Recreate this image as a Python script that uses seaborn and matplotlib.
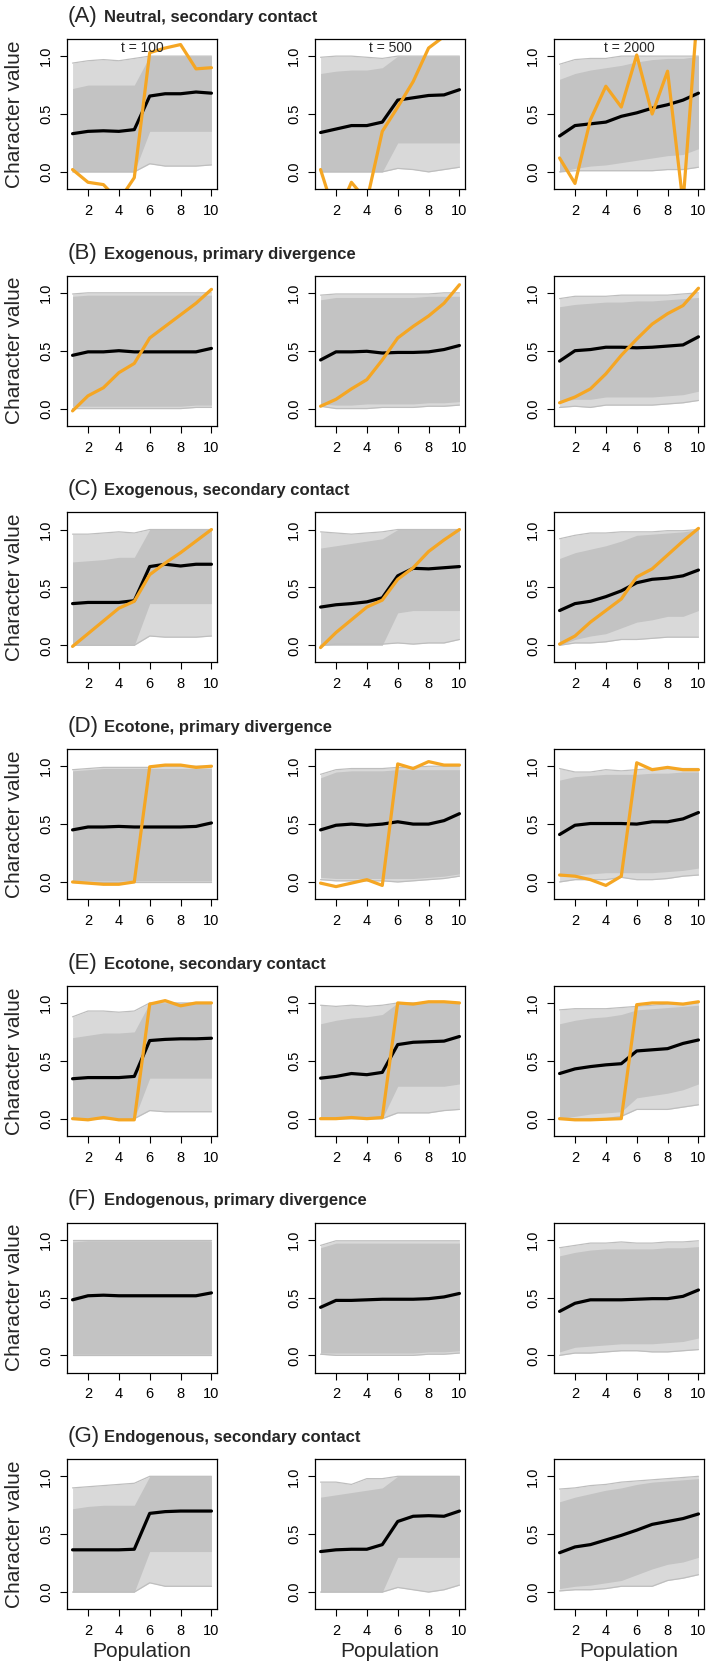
import matplotlib
matplotlib.use("Agg")
import matplotlib.pyplot as plt
import seaborn as sns
import pandas as pd

sns.set_theme(style="white")
plt.rcParams['font.family'] = ['Liberation Sans', 'DejaVu Sans']

POP = [1, 2, 3, 4, 5, 6, 7, 8, 9, 10]
TIMES = ["t = 100", "t = 500", "t = 2000"]
LETTERS = ["(A)", "(B)", "(C)", "(D)", "(E)", "(F)", "(G)"]
TITLES = ["Neutral, secondary contact", "Exogenous, primary divergence",
          "Exogenous, secondary contact", "Ecotone, primary divergence",
          "Ecotone, secondary contact", "Endogenous, primary divergence",
          "Endogenous, secondary contact"]
XTICKS = [2, 4, 6, 8, 10]
YTICKS = [0.0, 0.5, 1.0]
YTICKLABELS = ["0.0", "0.5", "1.0"]

# ---------------- Row A ----------------
A_mean = [[0.33, 0.35, 0.355, 0.35, 0.365, 0.655, 0.675, 0.675, 0.69, 0.68],
          [0.34, 0.37, 0.40, 0.40, 0.43, 0.62, 0.64, 0.66, 0.665, 0.71],
          [0.31, 0.40, 0.415, 0.43, 0.48, 0.51, 0.55, 0.58, 0.62, 0.68]]
A_orange = [[0.02, -0.09, -0.11, -0.25, -0.05, 1.03, 1.07, 1.10, 0.89, 0.90],
            [0.02, -0.40, -0.09, -0.25, 0.35, 0.56, 0.78, 1.07, 1.17, 1.35],
            [0.12, -0.10, 0.45, 0.74, 0.56, 1.01, 0.50, 0.87, -0.27, 1.50]]
A_hi = [[0.94, 0.96, 0.97, 0.96, 0.98, 1.0, 1.0, 1.0, 1.0, 1.0],
        [0.99, 1.0, 1.0, 0.99, 0.98, 1.0, 1.0, 1.0, 1.0, 1.0],
        [0.93, 0.97, 0.98, 0.98, 1.0, 1.0, 1.0, 1.0, 1.0, 1.0]]
A_lo = [[0.0, 0.0, 0.0, 0.0, 0.0, 0.07, 0.05, 0.05, 0.05, 0.06],
        [0.0, 0.0, 0.0, 0.0, 0.0, 0.03, 0.02, 0.0, 0.02, 0.04],
        [0.0, 0.01, 0.01, 0.01, 0.01, 0.01, 0.01, 0.02, 0.02, 0.04]]
A_core_hi = [[0.72, 0.75, 0.75, 0.75, 0.75, 1.0, 1.0, 1.0, 1.0, 1.0],
             [0.85, 0.87, 0.88, 0.88, 0.90, 1.0, 1.0, 1.0, 1.0, 1.0],
             [0.80, 0.85, 0.88, 0.90, 0.92, 0.95, 0.97, 0.98, 0.98, 1.0]]
A_core_lo = [[0.0, 0.0, 0.0, 0.0, 0.0, 0.35, 0.35, 0.35, 0.35, 0.35],
             [0.0, 0.0, 0.0, 0.0, 0.0, 0.25, 0.25, 0.25, 0.25, 0.25],
             [0.0, 0.03, 0.05, 0.06, 0.08, 0.10, 0.12, 0.14, 0.15, 0.20]]

# ---------------- Row B ----------------
B_mean = [[0.46, 0.49, 0.49, 0.50, 0.49, 0.49, 0.49, 0.49, 0.49, 0.52],
          [0.42, 0.49, 0.49, 0.495, 0.48, 0.485, 0.485, 0.49, 0.51, 0.545],
          [0.41, 0.50, 0.51, 0.53, 0.53, 0.525, 0.53, 0.54, 0.55, 0.62]]
B_orange = [[-0.02, 0.11, 0.18, 0.31, 0.39, 0.61, 0.71, 0.81, 0.91, 1.03],
            [0.02, 0.08, 0.17, 0.25, 0.42, 0.61, 0.71, 0.80, 0.91, 1.07],
            [0.05, 0.10, 0.17, 0.30, 0.46, 0.60, 0.73, 0.82, 0.89, 1.04]]
B_hi = [[0.99, 1.0, 1.0, 1.0, 1.0, 1.0, 1.0, 1.0, 1.0, 1.0],
        [0.98, 0.99, 0.99, 0.99, 0.99, 0.99, 0.99, 0.99, 1.0, 1.0],
        [0.95, 0.97, 0.97, 0.97, 0.98, 0.98, 0.98, 0.98, 0.99, 1.0]]
B_lo = [[0.0, 0.0, 0.0, 0.0, 0.0, 0.0, 0.0, 0.0, 0.01, 0.01],
        [0.02, 0.0, 0.0, 0.0, 0.01, 0.01, 0.01, 0.02, 0.02, 0.03],
        [0.01, 0.02, 0.01, 0.03, 0.03, 0.03, 0.03, 0.04, 0.05, 0.07]]
B_core_hi = [[0.97, 0.98, 0.98, 0.98, 0.98, 0.98, 0.98, 0.98, 0.98, 0.98],
             [0.94, 0.96, 0.96, 0.96, 0.96, 0.96, 0.96, 0.97, 0.97, 0.97],
             [0.88, 0.90, 0.91, 0.92, 0.92, 0.93, 0.93, 0.94, 0.95, 0.96]]
B_core_lo = [[0.02, 0.02, 0.02, 0.02, 0.02, 0.02, 0.02, 0.02, 0.03, 0.03],
             [0.04, 0.03, 0.03, 0.04, 0.04, 0.04, 0.04, 0.05, 0.05, 0.06],
             [0.06, 0.08, 0.08, 0.10, 0.10, 0.10, 0.10, 0.11, 0.12, 0.15]]

# ---------------- Row C ----------------
C_mean = [[0.36, 0.37, 0.37, 0.37, 0.385, 0.68, 0.70, 0.685, 0.70, 0.70],
          [0.33, 0.35, 0.36, 0.375, 0.41, 0.60, 0.665, 0.66, 0.67, 0.68],
          [0.30, 0.36, 0.38, 0.42, 0.47, 0.54, 0.57, 0.58, 0.60, 0.65]]
C_orange = [[-0.01, 0.10, 0.21, 0.32, 0.38, 0.61, 0.71, 0.80, 0.90, 1.00],
            [-0.02, 0.11, 0.22, 0.33, 0.39, 0.57, 0.67, 0.81, 0.91, 1.00],
            [0.01, 0.08, 0.20, 0.30, 0.40, 0.59, 0.66, 0.78, 0.90, 1.01]]
C_hi = [[0.96, 0.96, 0.97, 0.98, 0.97, 1.0, 1.0, 1.0, 1.0, 1.0],
        [0.98, 0.97, 0.96, 0.97, 0.98, 1.0, 1.0, 1.0, 1.0, 1.0],
        [0.92, 0.95, 0.97, 0.97, 0.98, 0.98, 0.98, 0.99, 0.99, 1.0]]
C_lo = [[0.0, 0.0, 0.0, 0.0, 0.0, 0.08, 0.07, 0.07, 0.07, 0.08],
        [0.0, 0.01, 0.01, 0.01, 0.01, 0.02, 0.01, 0.02, 0.02, 0.05],
        [0.0, 0.02, 0.02, 0.03, 0.05, 0.05, 0.06, 0.07, 0.07, 0.07]]
C_core_hi = [[0.72, 0.73, 0.74, 0.76, 0.76, 1.0, 1.0, 1.0, 1.0, 1.0],
             [0.84, 0.86, 0.88, 0.90, 0.92, 1.0, 1.0, 1.0, 1.0, 1.0],
             [0.75, 0.80, 0.83, 0.86, 0.90, 0.95, 0.96, 0.97, 0.98, 1.0]]
C_core_lo = [[0.0, 0.0, 0.0, 0.0, 0.0, 0.36, 0.36, 0.36, 0.36, 0.36],
             [0.0, 0.0, 0.0, 0.0, 0.0, 0.28, 0.30, 0.30, 0.30, 0.30],
             [0.0, 0.05, 0.08, 0.10, 0.15, 0.20, 0.22, 0.25, 0.25, 0.30]]

# ---------------- Row D ----------------
D_mean = [[0.45, 0.475, 0.475, 0.48, 0.475, 0.475, 0.475, 0.475, 0.48, 0.51],
          [0.45, 0.49, 0.50, 0.49, 0.50, 0.52, 0.50, 0.50, 0.53, 0.59],
          [0.41, 0.49, 0.505, 0.505, 0.505, 0.50, 0.52, 0.52, 0.545, 0.60]]
D_orange = [[0.0, -0.01, -0.02, -0.02, 0.0, 0.995, 1.01, 1.01, 0.99, 1.0],
            [-0.01, -0.04, -0.01, 0.02, -0.03, 1.02, 0.98, 1.04, 1.01, 1.01],
            [0.06, 0.05, 0.02, -0.03, 0.05, 1.03, 0.97, 0.99, 0.97, 0.97]]
D_hi = [[0.97, 0.98, 0.99, 0.99, 0.99, 0.99, 1.0, 1.0, 1.0, 1.0],
        [0.93, 0.97, 0.98, 0.98, 0.98, 0.99, 0.99, 1.0, 1.0, 1.0],
        [0.98, 0.95, 0.95, 0.97, 0.96, 0.97, 0.98, 0.98, 0.98, 0.98]]
D_lo = [[0.0, 0.0, 0.0, 0.0, 0.0, 0.0, 0.0, 0.0, 0.0, 0.0],
        [0.02, 0.01, 0.01, 0.01, 0.01, 0.0, 0.01, 0.02, 0.03, 0.05],
        [0.0, 0.02, 0.02, 0.02, 0.04, 0.02, 0.02, 0.03, 0.05, 0.06]]
D_core_hi = [[0.96, 0.97, 0.98, 0.98, 0.98, 0.98, 0.98, 0.98, 0.98, 0.98],
             [0.90, 0.95, 0.96, 0.96, 0.96, 0.97, 0.97, 0.97, 0.97, 0.97],
             [0.88, 0.91, 0.92, 0.93, 0.93, 0.93, 0.94, 0.94, 0.95, 0.95]]
D_core_lo = [[0.01, 0.01, 0.01, 0.01, 0.01, 0.01, 0.01, 0.01, 0.01, 0.01],
             [0.04, 0.03, 0.03, 0.03, 0.03, 0.03, 0.03, 0.04, 0.05, 0.07],
             [0.05, 0.06, 0.07, 0.08, 0.08, 0.08, 0.08, 0.09, 0.10, 0.12]]

# ---------------- Row E ----------------
E_mean = [[0.345, 0.355, 0.355, 0.355, 0.365, 0.675, 0.685, 0.69, 0.69, 0.695],
          [0.35, 0.365, 0.39, 0.38, 0.40, 0.64, 0.66, 0.665, 0.67, 0.71],
          [0.39, 0.43, 0.45, 0.465, 0.475, 0.585, 0.595, 0.605, 0.65, 0.68]]
E_orange = [[0.0, -0.01, 0.01, -0.01, -0.01, 0.99, 1.02, 0.975, 1.0, 1.0],
            [0.0, 0.0, 0.01, 0.0, 0.01, 1.0, 0.99, 1.01, 1.01, 1.0],
            [0.0, -0.01, -0.01, -0.005, 0.0, 0.985, 1.0, 1.0, 0.99, 1.01]]
E_hi = [[0.88, 0.93, 0.93, 0.92, 0.93, 1.0, 1.0, 1.0, 1.0, 1.0],
        [0.98, 0.97, 0.98, 0.97, 0.98, 1.0, 1.0, 1.0, 1.0, 1.0],
        [0.94, 0.95, 0.95, 0.95, 0.96, 0.97, 0.98, 0.99, 0.99, 1.0]]
E_lo = [[0.0, 0.0, 0.0, 0.0, 0.0, 0.07, 0.06, 0.06, 0.06, 0.06],
        [0.0, 0.0, 0.0, 0.0, 0.0, 0.05, 0.05, 0.05, 0.07, 0.08],
        [0.0, 0.0, 0.0, 0.0, 0.02, 0.08, 0.08, 0.08, 0.10, 0.12]]
E_core_hi = [[0.70, 0.72, 0.74, 0.74, 0.75, 1.0, 1.0, 1.0, 1.0, 1.0],
             [0.82, 0.85, 0.87, 0.88, 0.90, 1.0, 1.0, 1.0, 1.0, 1.0],
             [0.82, 0.85, 0.87, 0.88, 0.90, 0.94, 0.95, 0.96, 0.97, 0.98]]
E_core_lo = [[0.0, 0.0, 0.0, 0.0, 0.0, 0.35, 0.35, 0.35, 0.35, 0.35],
             [0.0, 0.0, 0.0, 0.0, 0.0, 0.28, 0.28, 0.28, 0.28, 0.30],
             [0.0, 0.02, 0.04, 0.05, 0.06, 0.18, 0.20, 0.22, 0.25, 0.30]]

# ---------------- Row F ----------------
F_mean = [[0.48, 0.515, 0.52, 0.515, 0.515, 0.515, 0.515, 0.515, 0.515, 0.54],
          [0.415, 0.475, 0.475, 0.48, 0.485, 0.485, 0.485, 0.49, 0.505, 0.535],
          [0.38, 0.45, 0.48, 0.48, 0.48, 0.485, 0.49, 0.49, 0.51, 0.565]]
F_orange = [None, None, None]
F_hi = [[1.0, 1.0, 1.0, 1.0, 1.0, 1.0, 1.0, 1.0, 1.0, 1.0],
        [0.95, 0.99, 0.99, 0.99, 0.99, 0.99, 0.99, 0.99, 0.99, 0.99],
        [0.93, 0.95, 0.97, 0.97, 0.98, 0.97, 0.97, 0.98, 0.98, 0.99]]
F_lo = [[0.0, 0.0, 0.0, 0.0, 0.0, 0.0, 0.0, 0.0, 0.0, 0.0],
        [0.01, 0.0, 0.0, 0.0, 0.0, 0.0, 0.0, 0.01, 0.01, 0.02],
        [0.0, 0.02, 0.02, 0.03, 0.04, 0.04, 0.03, 0.03, 0.04, 0.05]]
F_core_hi = [[0.98, 0.99, 0.99, 0.99, 0.99, 0.99, 0.99, 0.99, 0.99, 0.99],
             [0.93, 0.97, 0.97, 0.97, 0.97, 0.97, 0.97, 0.97, 0.97, 0.97],
             [0.86, 0.89, 0.91, 0.92, 0.92, 0.92, 0.92, 0.93, 0.93, 0.94]]
F_core_lo = [[0.01, 0.01, 0.01, 0.01, 0.01, 0.01, 0.01, 0.01, 0.01, 0.01],
             [0.02, 0.02, 0.02, 0.02, 0.02, 0.02, 0.02, 0.03, 0.03, 0.04],
             [0.03, 0.07, 0.08, 0.09, 0.10, 0.10, 0.10, 0.11, 0.12, 0.15]]

# ---------------- Row G ----------------
G_mean = [[0.365, 0.365, 0.365, 0.365, 0.37, 0.68, 0.695, 0.70, 0.70, 0.70],
          [0.35, 0.365, 0.37, 0.37, 0.41, 0.61, 0.655, 0.66, 0.655, 0.70],
          [0.34, 0.39, 0.41, 0.45, 0.49, 0.535, 0.585, 0.61, 0.635, 0.675]]
G_orange = [None, None, None]
G_hi = [[0.90, 0.91, 0.92, 0.93, 0.94, 1.0, 1.0, 1.0, 1.0, 1.0],
        [0.95, 0.95, 0.93, 0.98, 0.98, 1.0, 1.0, 1.0, 1.0, 1.0],
        [0.89, 0.90, 0.92, 0.93, 0.95, 0.96, 0.97, 0.98, 0.99, 1.0]]
G_lo = [[0.0, 0.0, 0.0, 0.0, 0.0, 0.08, 0.05, 0.05, 0.05, 0.05],
        [0.0, 0.0, 0.0, 0.0, 0.0, 0.04, 0.02, 0.0, 0.02, 0.06],
        [0.01, 0.02, 0.02, 0.03, 0.05, 0.05, 0.05, 0.10, 0.12, 0.15]]
G_core_hi = [[0.72, 0.74, 0.75, 0.75, 0.75, 1.0, 1.0, 1.0, 1.0, 1.0],
             [0.82, 0.84, 0.86, 0.88, 0.90, 1.0, 1.0, 1.0, 1.0, 1.0],
             [0.78, 0.82, 0.85, 0.88, 0.90, 0.93, 0.95, 0.96, 0.97, 0.98]]
G_core_lo = [[0.0, 0.0, 0.0, 0.0, 0.0, 0.35, 0.35, 0.35, 0.35, 0.35],
             [0.0, 0.0, 0.0, 0.0, 0.0, 0.30, 0.30, 0.30, 0.30, 0.30],
             [0.03, 0.05, 0.06, 0.08, 0.10, 0.15, 0.20, 0.24, 0.26, 0.30]]

ROWS = [
    (A_mean, A_orange, A_hi, A_lo, A_core_hi, A_core_lo),
    (B_mean, B_orange, B_hi, B_lo, B_core_hi, B_core_lo),
    (C_mean, C_orange, C_hi, C_lo, C_core_hi, C_core_lo),
    (D_mean, D_orange, D_hi, D_lo, D_core_hi, D_core_lo),
    (E_mean, E_orange, E_hi, E_lo, E_core_hi, E_core_lo),
    (F_mean, F_orange, F_hi, F_lo, F_core_hi, F_core_lo),
    (G_mean, G_orange, G_hi, G_lo, G_core_hi, G_core_lo),
]

# ---------------- Layout (pixels) ----------------
W, H = 709, 1673
COL_LEFT = [67, 315, 554]
BOX = 150
ROW_TOP0 = 39
ROW_PITCH = 236.7

GREY = "#C3C3C3"
SPARSE = "#D9D9D9"
EDGE = "#BEBEBE"
ORANGE = "#F5A623"

fig = plt.figure(figsize=(W / 100, H / 100), dpi=100)
fig.patch.set_facecolor("white")

for r, (means, oranges, his, los, chis, clos) in enumerate(ROWS):
    top = ROW_TOP0 + r * ROW_PITCH
    # row heading
    fig.text(68 / W, 1 - (top - 17) / H, LETTERS[r], fontsize=16,
             ha="left", va="baseline")
    fig.text(104 / W, 1 - (top - 17) / H, TITLES[r], fontsize=12,
             fontweight="bold", ha="left", va="baseline")
    fig.text(15 / W, 1 - (top + BOX / 2) / H, "Character value", fontsize=15,
             rotation=90, ha="center", va="center")
    for c in range(3):
        ax = fig.add_axes([COL_LEFT[c] / W, 1 - (top + BOX) / H, BOX / W, BOX / H])
        ax.set_facecolor("white")
        ax.fill_between(POP, los[c], his[c], color=SPARSE, lw=0, zorder=1)
        ax.fill_between(POP, clos[c], chis[c], color=GREY, lw=0, zorder=2)
        ax.plot(POP, his[c], color=EDGE, lw=0.9, zorder=2)
        ax.plot(POP, los[c], color=EDGE, lw=0.9, zorder=2)
        df = pd.DataFrame({"Population": POP, "mean": means[c]})
        sns.lineplot(data=df, x="Population", y="mean", color="black", lw=2.3,
                     estimator=None, sort=False, ax=ax, zorder=4)
        if oranges[c] is not None:
            dfo = pd.DataFrame({"Population": POP, "val": oranges[c]})
            sns.lineplot(data=dfo, x="Population", y="val", color=ORANGE, lw=2.3,
                         estimator=None, sort=False, ax=ax, zorder=5)
        ax.set_xlim(0.64, 10.36)
        ax.set_ylim(-0.148, 1.148)
        ax.set_xticks(XTICKS)
        ax.set_xticklabels([str(t) for t in XTICKS])
        ax.set_yticks(YTICKS)
        ax.set_yticklabels(YTICKLABELS, rotation=90, va="center")
        ax.set_xlabel("")
        ax.set_ylabel("")
        ax.grid(False)
        ax.tick_params(axis="both", which="both", direction="out", length=5,
                       width=0.8, colors="black", labelsize=10.5,
                       bottom=True, left=True, top=False, right=False)
        ax.tick_params(axis="x", pad=5.8)
        ax.tick_params(axis="y", pad=5)
        for s in ax.spines.values():
            s.set_visible(True)
            s.set_color("black")
            s.set_linewidth(0.9)
            s.set_zorder(6)
        if r == 0:
            ax.text(0.5, 1 - 9 / BOX, TIMES[c], transform=ax.transAxes,
                    ha="center", va="center", fontsize=10, zorder=7)
        if r == len(ROWS) - 1:
            fig.text((COL_LEFT[c] + BOX / 2) / W, 1 - (top + BOX + 42) / H,
                     "Population", fontsize=15, ha="center", va="center")

fig.savefig("out.png", dpi=100, facecolor="white")
